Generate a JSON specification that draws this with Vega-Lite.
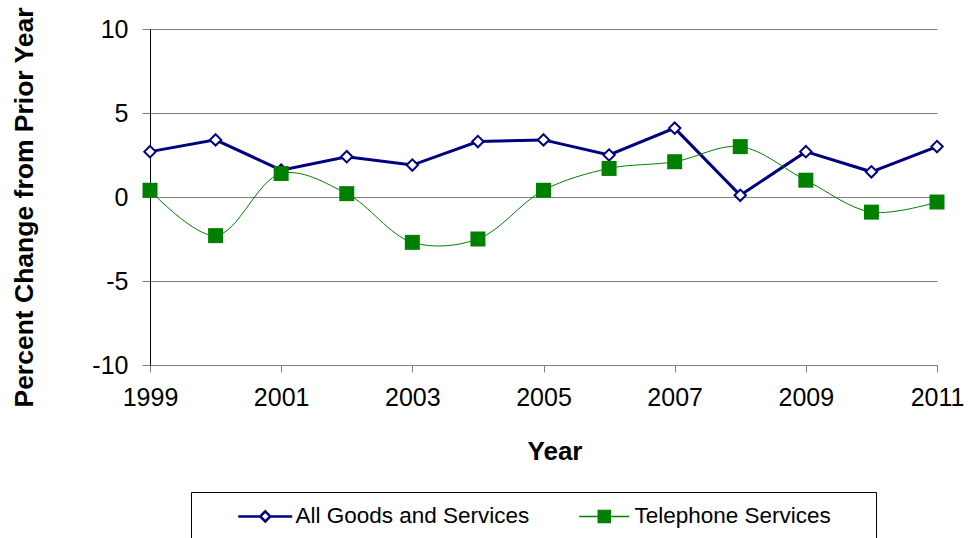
{
  "$schema": "https://vega.github.io/schema/vega-lite/v6.json",
  "width": 787,
  "height": 336,
  "autosize": {"type": "none"},
  "padding": {"left": 150, "top": 29, "right": 32, "bottom": 173},
  "config": {
    "font": "Liberation Sans",
    "view": {"stroke": null}
  },
  "data": {
    "values": [
      {"year": 1999, "series": "All Goods and Services", "value": 2.7},
      {"year": 2000, "series": "All Goods and Services", "value": 3.4},
      {"year": 2001, "series": "All Goods and Services", "value": 1.6},
      {"year": 2002, "series": "All Goods and Services", "value": 2.4},
      {"year": 2003, "series": "All Goods and Services", "value": 1.9},
      {"year": 2004, "series": "All Goods and Services", "value": 3.3},
      {"year": 2005, "series": "All Goods and Services", "value": 3.4},
      {"year": 2006, "series": "All Goods and Services", "value": 2.5},
      {"year": 2007, "series": "All Goods and Services", "value": 4.1},
      {"year": 2008, "series": "All Goods and Services", "value": 0.1},
      {"year": 2009, "series": "All Goods and Services", "value": 2.7},
      {"year": 2010, "series": "All Goods and Services", "value": 1.5},
      {"year": 2011, "series": "All Goods and Services", "value": 3.0},
      {"year": 1999, "series": "Telephone Services", "value": 0.4},
      {"year": 2000, "series": "Telephone Services", "value": -2.3},
      {"year": 2001, "series": "Telephone Services", "value": 1.4},
      {"year": 2002, "series": "Telephone Services", "value": 0.2},
      {"year": 2003, "series": "Telephone Services", "value": -2.7},
      {"year": 2004, "series": "Telephone Services", "value": -2.5},
      {"year": 2005, "series": "Telephone Services", "value": 0.4},
      {"year": 2006, "series": "Telephone Services", "value": 1.7},
      {"year": 2007, "series": "Telephone Services", "value": 2.1},
      {"year": 2008, "series": "Telephone Services", "value": 3.0},
      {"year": 2009, "series": "Telephone Services", "value": 1.0},
      {"year": 2010, "series": "Telephone Services", "value": -0.9},
      {"year": 2011, "series": "Telephone Services", "value": -0.3}
    ]
  },
  "encoding": {
    "x": {
      "field": "year",
      "type": "quantitative",
      "scale": {"domain": [1999, 2011], "nice": false, "zero": false},
      "axis": {
        "title": "Year",
        "values": [1999, 2001, 2003, 2005, 2007, 2009, 2011],
        "format": "d",
        "grid": false,
        "domainColor": "#808080",
        "tickColor": "#808080",
        "tickSize": 7,
        "labelFontSize": 25,
        "labelColor": "#000000",
        "labelPadding": 13,
        "labelFlush": false,
        "labelOverlap": false,
        "labelBound": false,
        "titleFontSize": 26,
        "titleFontWeight": "bold",
        "titleColor": "#000000",
        "titleX": 404.5,
        "titleY": 73,
        "titleBaseline": "top",
        "titleAlign": "center"
      }
    },
    "y": {
      "field": "value",
      "type": "quantitative",
      "scale": {"domain": [-10, 10], "nice": false},
      "axis": {
        "title": "Percent Change from Prior Year",
        "values": [-10, -5, 0, 5, 10],
        "labelExpr": "datum.value + ''",
        "grid": true,
        "gridColor": "#808080",
        "gridOpacity": 1,
        "domainColor": "#000000",
        "tickColor": "#808080",
        "tickSize": 8,
        "labelFontSize": 25,
        "labelColor": "#000000",
        "labelPadding": 14,
        "labelFlush": false,
        "labelOverlap": false,
        "titleFontSize": 26.5,
        "titleFontWeight": "bold",
        "titleColor": "#000000",
        "titleAngle": 270,
        "titleX": -118,
        "titleY": 178,
        "titleAlign": "center",
        "titleBaseline": "alphabetic"
      }
    }
  },
  "layer": [
    {
      "transform": [{"filter": "datum.series == 'All Goods and Services'"}],
      "mark": {"type": "line", "strokeWidth": 3},
      "encoding": {
        "color": {
          "field": "series",
          "type": "nominal",
          "scale": {
            "domain": ["All Goods and Services", "Telephone Services"],
            "range": ["#000080", "#008000"]
          },
          "legend": {
            "orient": "none",
            "legendX": 41,
            "legendY": 463,
            "direction": "horizontal",
            "title": null,
            "padding": 13,
            "strokeColor": "#000000",
            "fillColor": "#ffffff",
            "labelFontSize": 22.5,
            "labelColor": "#000000",
            "labelLimit": 400,
            "symbolSize": 100,
            "symbolOffset": 50,
            "labelOffset": 19,
            "columnPadding": 13,
            "labelExpr": "datum.label == 'Telephone Services' ? datum.label + '\u00a0\u00a0\u00a0\u00a0\u00a0\u200b' : datum.label",
            "encode": {
              "symbols": {
                "update": {
                  "shape": {"signal": "datum.value == 'All Goods and Services' ? 'M-5.4,0L-1,0M1,0L5.4,0M-1,0L0,-1L1,0L0,1Z' : 'M-5,0L5,0M-1.2,-1.2L1.2,-1.2L1.2,1.2L-1.2,1.2Z'"},
                  "fill": {"signal": "datum.value == 'All Goods and Services' ? '#ffffff' : '#008000'"},
                  "stroke": {"signal": "datum.value == 'All Goods and Services' ? '#000080' : '#2a962a'"},
                  "strokeWidth": {"signal": "datum.value == 'All Goods and Services' ? 2.5 : 1.5"},
                  "size": {"value": 100},
                  "opacity": {"value": 1}
                }
              }
            }
          }
        }
      }
    },
    {
      "transform": [{"filter": "datum.series == 'All Goods and Services'"}],
      "mark": {"type": "point", "shape": "diamond", "size": 130, "filled": true, "fill": "#ffffff", "stroke": "#000080", "strokeWidth": 2, "opacity": 1}
    },
    {
      "transform": [{"filter": "datum.series == 'Telephone Services'"}],
      "mark": {"type": "line", "interpolate": "catmull-rom", "color": "#008000", "strokeWidth": 1}
    },
    {
      "transform": [{"filter": "datum.series == 'Telephone Services'"}],
      "mark": {"type": "point", "shape": "square", "size": 225, "filled": true, "color": "#008000", "opacity": 1}
    }
  ]
}
